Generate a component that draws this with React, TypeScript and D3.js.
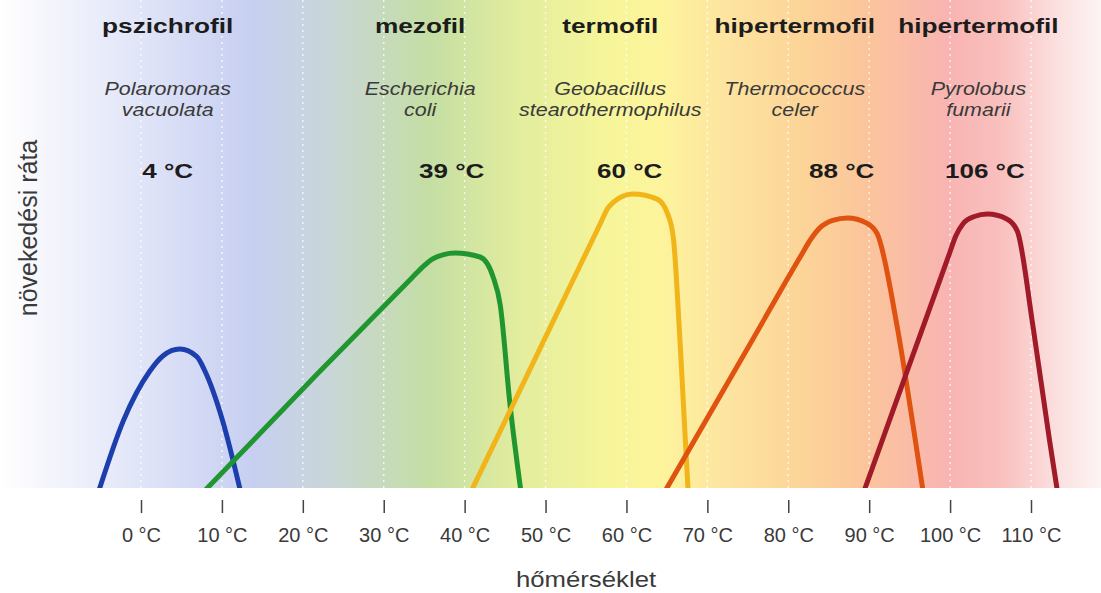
import React, { useEffect, useRef } from "react";
import * as d3 from "d3";

// csoportok, fajok, optimumok
const groups = ["pszichrofil", "mezofil", "termofil", "hipertermofil", "hipertermofil"];
const species = [
  ["Polaromonas", "vacuolata"],
  ["Escherichia", "coli"],
  ["Geobacillus", "stearothermophilus"],
  ["Thermococcus", "celer"],
  ["Pyrolobus", "fumarii"],
];
const optima = [4, 39, 60, 88, 106];
const tickValues = [0, 10, 20, 30, 40, 50, 60, 70, 80, 90, 100, 110];

// [hőmérséklet °C, relatív növekedési ráta]
const psychro = [[-5.1, 0], [-2.2, 22.3], [1.1, 39], [2.7, 44], [4.8, 46.3], [6.9, 43.8], [7.9, 39], [10.1, 22.3], [12.2, 0]];
const meso = [[8.2, 0], [21.9, 38.3], [33.5, 70.1], [34.9, 73.9], [36.0, 76.3], [37.4, 77.8], [38.8, 78.3], [41.9, 77], [43.5, 70.5], [44.4, 61], [45.6, 28], [46.9, 0]];
const thermo = [[41.0, 0], [50.5, 53.1], [56.8, 88.3], [57.7, 93.3], [58.4, 95.3], [59.4, 97.1], [60.8, 98], [63.8, 96.3], [65.1, 91.3], [65.8, 83.3], [66.6, 50], [67.6, 0]];
const hyper1 = [[65.0, 0], [75.3, 48.1], [81.6, 77.6], [82.8, 83], [83.9, 86.7], [85.5, 89.2], [87.3, 90], [89.7, 88.3], [91.0, 84.7], [93.4, 54.7], [95.4, 21.3], [96.6, 0]];
const hyper2 = [[89.5, 0], [95.0, 41.3], [99.9, 78], [100.7, 84], [101.6, 88.1], [103.0, 90.5], [104.6, 91.3], [107.0, 89.7], [108.3, 85.7], [110.2, 54.7], [112.3, 15.7], [113.2, 0]];
const series = [psychro, meso, thermo, hyper1, hyper2];
const colors = ["#1d3fae", "#1f9630", "#f1b419", "#e0520f", "#a01a28"];

// feliratok középpontja °C-ban (elrendezés)
const groupCenters = [3.3, 34.5, 58, 80.8, 103.5];
const optimumCenters = [3.3, 38.4, 60.4, 86.6, 104.3];

const bgStops = [
  [0, "#ffffff"],
  [0.05, "#f3f4fc"],
  [0.14, "#dde2f7"],
  [0.23, "#c7cff1"],
  [0.3, "#c9d6d8"],
  [0.39, "#c4dea4"],
  [0.47, "#e2ed9e"],
  [0.55, "#f6f59a"],
  [0.6, "#fdf49c"],
  [0.66, "#fde4a0"],
  [0.73, "#fcd498"],
  [0.79, "#fbc49c"],
  [0.86, "#f8b4b2"],
  [0.91, "#f9c0be"],
  [0.96, "#fbe0df"],
  [1, "#fdf4f4"],
];

const W = 1101;
const H = 593;
const FONT = "'Liberation Sans', Arial, Helvetica, sans-serif";

export default function App() {
  const svgRef = useRef(null);

  useEffect(() => {
    const svg = d3.select(svgRef.current);
    svg.selectAll("*").remove();

    const baseline = 488;
    const x = d3.scaleLinear().domain([0, 110]).range([141, 1031]);
    const y = d3.scaleLinear().domain([0, 100]).range([baseline, 188]);

    const defs = svg.append("defs");
    const grad = defs
      .append("linearGradient")
      .attr("id", "bg")
      .attr("gradientUnits", "userSpaceOnUse")
      .attr("x1", 0)
      .attr("x2", W)
      .attr("y1", 0)
      .attr("y2", 0);
    grad
      .selectAll("stop")
      .data(bgStops)
      .join("stop")
      .attr("offset", (d) => d[0])
      .attr("stop-color", (d) => d[1]);
    defs
      .append("clipPath")
      .attr("id", "plotClip")
      .append("rect")
      .attr("x", 0)
      .attr("y", 0)
      .attr("width", W)
      .attr("height", baseline);

    svg.append("rect").attr("x", 0).attr("y", 0).attr("width", W).attr("height", baseline).attr("fill", "url(#bg)");

    // szaggatott rácsvonalak
    svg
      .append("g")
      .selectAll("line")
      .data(tickValues)
      .join("line")
      .attr("x1", (d) => x(d))
      .attr("x2", (d) => x(d))
      .attr("y1", 0)
      .attr("y2", baseline)
      .attr("stroke", "#ffffff")
      .attr("stroke-width", 1.5)
      .attr("stroke-dasharray", "2 4")
      .attr("opacity", 0.75);

    const line = d3
      .line()
      .x((d) => x(d[0]))
      .y((d) => y(d[1]))
      .curve(d3.curveMonotoneX);

    svg
      .append("g")
      .attr("clip-path", "url(#plotClip)")
      .selectAll("path")
      .data(series)
      .join("path")
      .attr("d", line)
      .attr("fill", "none")
      .attr("stroke", (d, i) => colors[i])
      .attr("stroke-width", 5)
      .attr("stroke-linecap", "square")
      .attr("stroke-linejoin", "round");

    // x tengely
    const axis = d3
      .axisBottom(x)
      .tickValues(tickValues)
      .tickSize(13)
      .tickPadding(15)
      .tickFormat((d) => `${d} °C`);
    const ag = svg.append("g").attr("transform", `translate(0,500)`).call(axis);
    ag.select(".domain").remove();
    ag.selectAll(".tick line").attr("stroke", "#444").attr("stroke-width", 1.5);
    ag.selectAll(".tick text")
      .attr("fill", "#3a3a3a")
      .attr("font-size", 20)
      .attr("font-family", FONT);

    svg
      .append("text")
      .attr("transform", `translate(${x(55)},587) scale(1.17,1)`)
      .attr("text-anchor", "middle")
      .attr("font-family", FONT)
      .attr("font-size", 22)
      .attr("fill", "#3a3a3a")
      .text("hőmérséklet");

    svg
      .append("text")
      .attr("transform", `translate(37,228) rotate(-90)`)
      .attr("text-anchor", "middle")
      .attr("font-family", FONT)
      .attr("font-size", 25)
      .attr("fill", "#3a3a3a")
      .text("növekedési ráta");

    // csoportnevek
    svg
      .append("g")
      .selectAll("text")
      .data(groups)
      .join("text")
      .attr("transform", (d, i) => `translate(${x(groupCenters[i])},33) scale(1.25,1)`)
      .attr("text-anchor", "middle")
      .attr("font-family", FONT)
      .attr("font-weight", "bold")
      .attr("font-size", 21)
      .attr("fill", "#1c1c1c")
      .text((d) => d);

    // fajnevek
    const sp = svg
      .append("g")
      .selectAll("g")
      .data(species)
      .join("g")
      .attr("transform", (d, i) => `translate(${x(groupCenters[i])},0)`);
    sp.selectAll("text")
      .data((d) => d)
      .join("text")
      .attr("transform", (d, j) => `translate(0,${95 + j * 21}) scale(1.13,1)`)
      .attr("text-anchor", "middle")
      .attr("font-family", FONT)
      .attr("font-style", "italic")
      .attr("font-size", 19)
      .attr("fill", "#3a3a3a")
      .text((d) => d);

    // optimum hőmérsékletek
    svg
      .append("g")
      .selectAll("text")
      .data(optima)
      .join("text")
      .attr("transform", (d, i) => `translate(${x(optimumCenters[i])},178) scale(1.24,1)`)
      .attr("text-anchor", "middle")
      .attr("font-family", FONT)
      .attr("font-weight", "bold")
      .attr("font-size", 21)
      .attr("fill", "#1c1c1c")
      .text((d) => `${d} °C`);
  }, []);

  return (
    <svg
      ref={svgRef}
      width={W}
      height={H}
      style={{ position: "absolute", left: 0, top: 0, display: "block", background: "#ffffff" }}
    />
  );
}
